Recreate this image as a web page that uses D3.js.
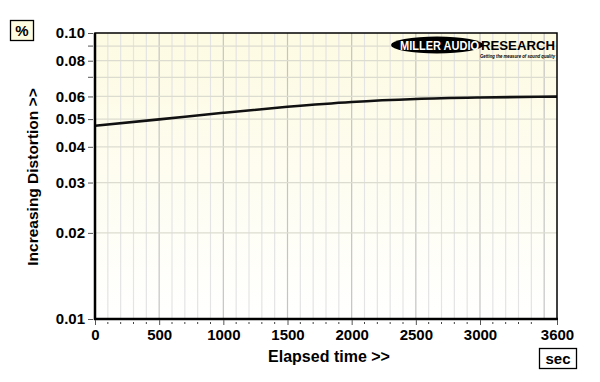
<!DOCTYPE html>
<html><head><meta charset="utf-8">
<script src="https://cdn.jsdelivr.net/npm/d3@7"></script>
<style>
html,body{margin:0;padding:0;background:#fff;}
text{font-family:"Liberation Sans",Arial,sans-serif;}
</style></head>
<body>
<svg id="c" width="600" height="382"></svg>
<script>
const timeSec = [0, 500, 1000, 1500, 2000, 2500, 3000, 3600];
const distortionPct = [0.0474, 0.0499, 0.0526, 0.0552, 0.0574, 0.0588, 0.0595, 0.0599];
const xTickValues = [0, 500, 1000, 1500, 2000, 2500, 3000, 3600];
const yTickLabels = [0.01, 0.02, 0.03, 0.04, 0.05, 0.06, 0.08, 0.10];
const yGridValues = [0.02, 0.03, 0.04, 0.05, 0.06, 0.07, 0.08, 0.09];
const yMinorTicks = [0.07, 0.09];

const svg = d3.select("#c");
const L = 95, R = 557, T = 33, B = 319;
const x = d3.scaleLinear().domain([0, 3600]).range([L, R]);
const y = d3.scaleLog().domain([0.01, 0.1]).range([B, T]);

const defs = svg.append("defs");
const grad = defs.append("linearGradient").attr("id","bg").attr("x1",0).attr("y1",0).attr("x2",0).attr("y2",1);
grad.append("stop").attr("offset","0%").attr("stop-color","#fdfbe2");
grad.append("stop").attr("offset","100%").attr("stop-color","#ffffff");

svg.append("rect").attr("x",L).attr("y",T).attr("width",R-L).attr("height",B-T).attr("fill","url(#bg)");

// vertical grid every 100 s
const vx = d3.range(100, 3600, 100);
svg.append("g").selectAll("line").data(vx).join("line")
  .attr("x1",d=>x(d)).attr("x2",d=>x(d)).attr("y1",T).attr("y2",B)
  .attr("stroke",d=>d%500===0?"#c4c4c4":"#e4e4e4").attr("stroke-width",1.2);
// horizontal grid
svg.append("g").selectAll("line").data(yGridValues).join("line")
  .attr("x1",L).attr("x2",R).attr("y1",d=>y(d)).attr("y2",d=>y(d))
  .attr("stroke","#dcdcd0").attr("stroke-width",1.2);

// curve
const line = d3.line().x((d,i)=>x(timeSec[i])).y(d=>y(d)).curve(d3.curveMonotoneX);
svg.append("path").datum(distortionPct).attr("d",line)
  .attr("fill","none").attr("stroke","#111").attr("stroke-width",2.6);

// frame
svg.append("rect").attr("x",L).attr("y",T).attr("width",R-L).attr("height",B-T)
  .attr("fill","none").attr("stroke","#000").attr("stroke-width",1.5);
svg.append("line").attr("x1",L).attr("x2",L).attr("y1",T).attr("y2",B+1).attr("stroke","#000").attr("stroke-width",2.5);
svg.append("line").attr("x1",L-1).attr("x2",R+1).attr("y1",B).attr("y2",B).attr("stroke","#000").attr("stroke-width",2.5);

// y axis
const yAxis = d3.axisLeft(y).tickValues(yTickLabels).tickFormat(d3.format(".2f")).tickSize(5).tickPadding(3);
const ya = svg.append("g").attr("transform",`translate(${L-2},0)`).call(yAxis);
ya.select(".domain").remove();
ya.selectAll("text").attr("font-size",15).attr("font-weight","bold").attr("fill","#000").attr("font-family","Liberation Sans, Arial, sans-serif");
ya.selectAll("line").attr("stroke","#555");
svg.append("g").selectAll("line").data(yMinorTicks).join("line")
  .attr("x1",L-7).attr("x2",L-2).attr("y1",d=>y(d)).attr("y2",d=>y(d)).attr("stroke","#555");

// x axis
const xAxis = d3.axisBottom(x).tickValues(xTickValues).tickFormat(d3.format("d")).tickSize(5).tickPadding(4);
const xa = svg.append("g").attr("transform",`translate(0,${B+1})`).call(xAxis);
xa.select(".domain").remove();
xa.selectAll("text").attr("font-size",15).attr("font-weight","bold").attr("fill","#000").attr("font-family","Liberation Sans, Arial, sans-serif");
xa.selectAll("line").attr("stroke","#555");
svg.append("g").selectAll("line").data(d3.range(100,3600,100).filter(d=>d%500!==0)).join("line")
  .attr("x1",d=>x(d)).attr("x2",d=>x(d)).attr("y1",B+3).attr("y2",B+5).attr("stroke","#444");

// titles
svg.append("text").attr("x",329).attr("y",362).attr("text-anchor","middle")
  .attr("font-size",16).attr("font-weight","bold").text("Elapsed time >>");
svg.append("text").attr("transform","translate(38,177) rotate(-90)").attr("text-anchor","middle")
  .attr("font-size",15.5).attr("font-weight","bold").text("Increasing Distortion >>");

// unit boxes
svg.append("rect").attr("x",10.5).attr("y",20.5).attr("width",23).attr("height",20).attr("fill","#fdfbe0").attr("stroke","#000").attr("stroke-width",1.3);
svg.append("text").attr("x",22).attr("y",36).attr("text-anchor","middle").attr("font-size",15).attr("font-weight","bold").text("%");
svg.append("rect").attr("x",539.5).attr("y",348.5).attr("width",37).attr("height",20).attr("fill","#fff").attr("stroke","#000").attr("stroke-width",1.3);
svg.append("text").attr("x",558).attr("y",364).attr("text-anchor","middle").attr("font-size",15).attr("font-weight","bold").text("sec");

// logo
const lg = svg.append("g");
lg.append("ellipse").attr("cx",437).attr("cy",45).attr("rx",46).attr("ry",8.5).attr("fill","#000");
lg.append("text").attr("x",400).attr("y",49.5).attr("font-size",12).attr("font-weight","bold")
  .attr("font-family","DejaVu Sans, sans-serif")
  .attr("fill","#fff").attr("textLength",79).attr("lengthAdjust","spacingAndGlyphs").text("MILLER AUDIO");
lg.append("text").attr("x",481).attr("y",49.5).attr("font-size",12).attr("font-weight","bold")
  .attr("font-family","DejaVu Sans, sans-serif")
  .attr("fill","#000").attr("textLength",74).attr("lengthAdjust","spacingAndGlyphs").text("RESEARCH");
lg.append("text").attr("x",480).attr("y",58).attr("font-size",5.5).attr("font-weight","bold").attr("font-style","italic")
  .attr("fill","#000").attr("textLength",75).attr("lengthAdjust","spacingAndGlyphs").text("Getting the measure of sound quality");
</script>
</body></html>
